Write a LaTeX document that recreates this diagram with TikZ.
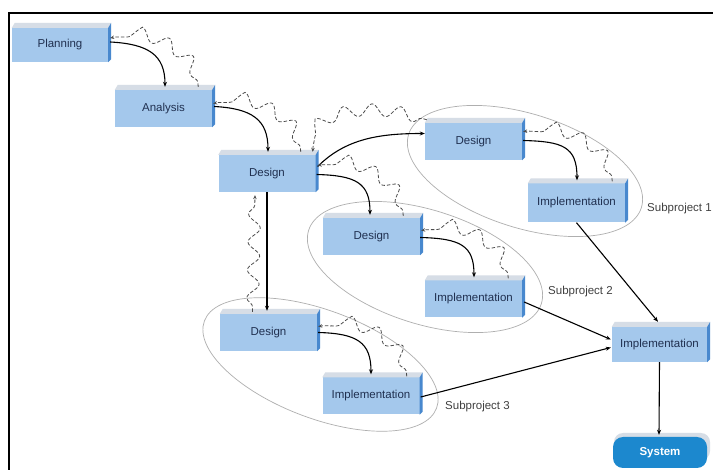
\documentclass[tikz,border=0pt]{standalone}
\usepackage{fontspec}
\setmainfont{Liberation Sans}
\usetikzlibrary{decorations.pathmorphing,arrows.meta,calc}
\definecolor{boxfront}{RGB}{164,200,236}
\definecolor{boxside}{RGB}{72,136,206}
\definecolor{boxtop}{RGB}{214,221,230}
\definecolor{txtc}{RGB}{32,48,80}
\definecolor{sysblue}{RGB}{28,136,206}
\definecolor{ellc}{RGB}{175,175,175}
\tikzset{
  stepbox/.style={rectangle, fill=boxfront, inner sep=0pt, text=txtc,
    minimum width=97pt, minimum height=37pt,
    font=\fontsize{11.5}{13}\selectfont},
  flow/.style={line width=1.1pt, -{Stealth[length=5pt,width=4pt]}},
  fb/.style={draw=black!70, dash pattern=on 3.5pt off 2pt, line width=0.8pt,
    decorate, decoration={snake, amplitude=6pt, segment length=28pt, pre length=5pt, post length=5pt},
    -{Stealth[length=4pt,width=3.5pt]}},
  ellip/.style={draw=ellc, line width=0.7pt},
  sublabel/.style={font=\fontsize{11.5}{13}\selectfont, text=black!75, anchor=west, inner sep=0pt}
}
\newcommand{\boxdeco}[1]{%
  \fill[boxtop] (#1.north west) -- ++(3,-5) -- ($(#1.north east)+(3,-5)$) -- (#1.north east) -- cycle;
  \fill[boxside] (#1.north east) -- ++(3,-5) -- ($(#1.south east)+(3,-3)$) -- (#1.south east) -- cycle;
}
\begin{document}
\begin{tikzpicture}[x=1pt,y=-1pt]
\useasboundingbox (0,0) rectangle (713,470);
\clip (0,0) rectangle (713,470);
\fill[white] (0,0) rectangle (713,470);
\draw[black, line width=1.4pt] (9,13) rectangle (740,490);

% ellipses
\draw[ellip, rotate around={-17.5:(525,171)}] (525,171) ellipse [x radius=122, y radius=57];
\draw[ellip, rotate around={-17.5:(425,267)}] (425,267) ellipse [x radius=122, y radius=57];
\draw[ellip, rotate around={-20.6:(320.5,364.5)}] (320.5,364.5) ellipse [x radius=124, y radius=54];

% boxes
\node[stepbox, minimum width=96pt, minimum height=34pt] (plan) at (60,45) {Planning};
\node[stepbox] (ana) at (163.5,108.5) {Analysis};
\node[stepbox] (des) at (267,173.5) {Design};
\node[stepbox] (d1) at (473.5,141.5) {Design};
\node[stepbox, minimum height=39pt] (i1) at (576.5,203) {Implementation};
\node[stepbox] (d2) at (371.5,236.5) {Design};
\node[stepbox] (i2) at (473.5,299) {Implementation};
\node[stepbox] (d3) at (268.5,332.5) {Design};
\node[stepbox] (i3) at (371,396) {Implementation};
\node[stepbox, minimum width=95pt, minimum height=35pt] (fin) at (659.5,344.5) {Implementation};
\foreach \n in {plan,ana,des,d1,i1,d2,i2,d3,i3,fin} {\boxdeco{\n}}
\fill[boxtop, rounded corners=9pt] (614,433) rectangle (710,460);
\node[rectangle, rounded corners=10pt, fill=sysblue, text=white, inner sep=0pt,
  minimum width=94pt, minimum height=31pt, font=\bfseries\fontsize{11.5}{13}\selectfont] (sys) at (660,452.5) {System};

% labels
\node[sublabel] (s1) at (647,209) {Subproject 1};
\node[sublabel] (s2) at (548,292) {Subproject 2};
\node[sublabel] (s3) at (445,407) {Subproject 3};

% solid flows
\draw[flow] ($(plan.east)+(2,-3)$) .. controls ($(plan.east)+(40,-1)$) and ($(ana.north)+(1.5,-35)$) .. ($(ana.north)+(1.5,-3)$);
\draw[flow] ($(ana.east)+(2,-2)$) .. controls ($(ana.east)+(40,0)$) and ($(des.north)+(1,-35)$) .. ($(des.north)+(1,-3)$);
\draw[flow] ($(des.east)+(2,-7)$) .. controls ($(des.east)+(30,-35)$) and ($(d1.west)+(-45,-8)$) .. ($(d1.west)+(0,-8)$);
\draw[flow] ($(des.east)+(1,1)$) .. controls ($(des.east)+(40,2)$) and ($(d2.north)+(-1.5,-35)$) .. ($(d2.north)+(-1.5,-3)$);
\draw[flow] (des.south) -- ($(des.south |- d3.north)+(0,-3)$);
\draw[flow] ($(d1.east)+(1,-1)$) .. controls ($(d1.east)+(40,0)$) and ($(i1.north)+(0.5,-37)$) .. ($(i1.north)+(0.5,-3)$);
\draw[flow] ($(d2.east)+(0,1)$) .. controls ($(d2.east)+(40,2)$) and ($(i2.north)+(0.5,-35)$) .. ($(i2.north)+(0.5,-3)$);
\draw[flow] ($(d3.east)+(1,0)$) .. controls ($(d3.east)+(40,1)$) and ($(i3.north)+(0,-35)$) .. ($(i3.north)+(0,-3)$);
\draw[flow] (i1.south) -- ($(fin.north)+(-1.5,-5)$);
\draw[flow] ($(i2.east)+(2,3)$) -- ($(fin.west)+(-1,-5)$);
\draw[flow] ($(i3.east)+(1,1)$) -- ($(fin.west)+(-1,3)$);
\draw[flow] (fin.south) -- ($(sys.north)+(-1,-2)$);

% feedback (dashed, wavy)
\draw[fb] ($(ana.north east)+(-14,-3)$) .. controls ($(ana.north east)+(-12,-32)$) and ($(plan.east)+(25,-14)$) .. ($(plan.east)+(2,-7)$);
\draw[fb] ($(des.north east)+(-15,-3)$) .. controls ($(des.north east)+(-13,-32)$) and ($(ana.east)+(25,-12)$) .. ($(ana.east)+(1,-5)$);
\draw[fb] ($(d1.north west)+(2,-3)$) .. controls ($(d1.north west)+(-50,-20)$) and ($(des.north east)+(-3,-42)$) .. ($(des.north east)+(-3,-3)$);
\draw[fb] ($(d2.north east)+(-17,-2)$) .. controls ($(d2.north east)+(-15,-32)$) and ($(des.east)+(25,-14)$) .. ($(des.east)+(2,-8)$);
\draw[fb] ($(i1.north east)+(-13,-2)$) .. controls ($(i1.north east)+(-11,-32)$) and ($(d1.east)+(25,-14)$) .. ($(d1.east)+(1,-10)$);
\draw[fb] ($(i2.north east)+(-14,-2)$) .. controls ($(i2.north east)+(-12,-32)$) and ($(d2.east)+(25,-12)$) .. ($(d2.east)+(1,-6)$);
\draw[fb] ($(i3.north east)+(-13,-1)$) .. controls ($(i3.north east)+(-11,-32)$) and ($(d3.east)+(25,-12)$) .. ($(d3.east)+(1,-6)$);
\draw[fb] ($(d3.north)+(-16,-2)$) -- ($(des.south)+(-12,3)$);
\end{tikzpicture}
\end{document}
